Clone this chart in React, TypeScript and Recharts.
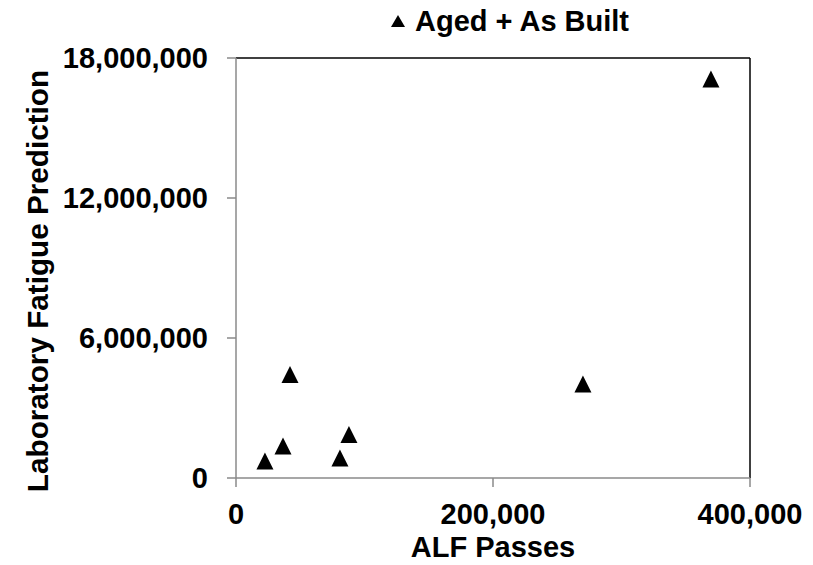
import React from "react";
import {
  ScatterChart,
  Scatter,
  XAxis,
  YAxis,
  ReferenceLine,
  Legend
} from "recharts";

// ALF passes vs lab fatigue prediction
const alfPasses = [22500, 36600, 42000, 80900, 87900, 270000, 369600];
const labPrediction = [730000, 1370000, 4440000, 860000, 1860000, 4030000, 17100000];
const xTicks = [0, 200000, 400000];
const yTicks = [0, 6000000, 12000000, 18000000];
const seriesName = "Aged + As Built";

const data = alfPasses.map((x, i) => ({ x, y: labPrediction[i] }));

const FONT = "'Liberation Sans', Arial, sans-serif";
const AXIS_GREY = "#8a8a8a";
const FS = 29;

const fmt = (v: number) => v.toLocaleString("en-US");

const Triangle = (props: any) => {
  const { cx, cy } = props;
  if (cx == null || cy == null) return null;
  return (
    <polygon
      points={`${cx},${cy - 8.5} ${cx - 8.5},${cy + 8.5} ${cx + 8.5},${cy + 8.5}`}
      fill="#000"
    />
  );
};

const renderLegend = () => (
  <div
    style={{
      height: 40,
      display: "flex",
      justifyContent: "center",
      alignItems: "flex-start",
      paddingLeft: 207,
      boxSizing: "border-box",
      paddingTop: 7,
      fontFamily: FONT,
      fontWeight: "bold",
      fontSize: FS,
      lineHeight: "29px",
      color: "#000"
    }}
  >
    <svg width={14} height={12} style={{ marginTop: 8, marginRight: 10 }}>
      <polygon points="7,0 0,12 14,12" fill="#000" />
    </svg>
    <span>{seriesName}</span>
  </div>
);

export default function App() {
  return (
    <div style={{ position: "absolute", left: 0, top: 0 }}>
      <ScatterChart
        width={813}
        height={565}
        margin={{ top: 18, right: 63, bottom: 0, left: 0 }}
        style={{ fontFamily: FONT }}
      >
        <Legend
          verticalAlign="top"
          content={renderLegend}
          wrapperStyle={{ top: 0, left: 0, width: 813, height: 40 }}
        />
        <XAxis
          type="number"
          dataKey="x"
          domain={[0, 400000]}
          ticks={xTicks}
          tickFormatter={fmt}
          height={87}
          tickSize={9}
          tickMargin={16}
          stroke={AXIS_GREY}
          strokeWidth={1.5}
          tick={{ fill: "#000", fontSize: FS, fontWeight: "bold", fontFamily: FONT }}
          label={{
            content: (p: any) => {
              const vb = p.viewBox;
              return (
                <text
                  x={vb.x + vb.width / 2}
                  y={557}
                  textAnchor="middle"
                  fontSize={FS}
                  fontWeight="bold"
                  fontFamily={FONT}
                  fill="#000"
                >
                  ALF Passes
                </text>
              );
            }
          }}
        />
        <YAxis
          type="number"
          dataKey="y"
          domain={[0, 18000000]}
          ticks={yTicks}
          tickFormatter={fmt}
          width={236}
          tickSize={9}
          tickMargin={19}
          stroke={AXIS_GREY}
          strokeWidth={1.5}
          tick={{ fill: "#000", fontSize: FS, fontWeight: "bold", fontFamily: FONT }}
          label={{
            content: () => (
              <text
                x={48}
                y={281}
                transform="rotate(-90 48 281)"
                textAnchor="middle"
                fontSize={29.7}
                fontWeight="bold"
                fontFamily={FONT}
                fill="#000"
              >
                Laboratory Fatigue Prediction
              </text>
            )
          }}
        />
        <ReferenceLine y={18000000} stroke="#000" strokeWidth={1.5} />
        <ReferenceLine x={400000} stroke="#000" strokeWidth={1.5} />
        <Scatter
          name={seriesName}
          data={data}
          shape={<Triangle />}
          isAnimationActive={false}
        />
      </ScatterChart>
    </div>
  );
}
